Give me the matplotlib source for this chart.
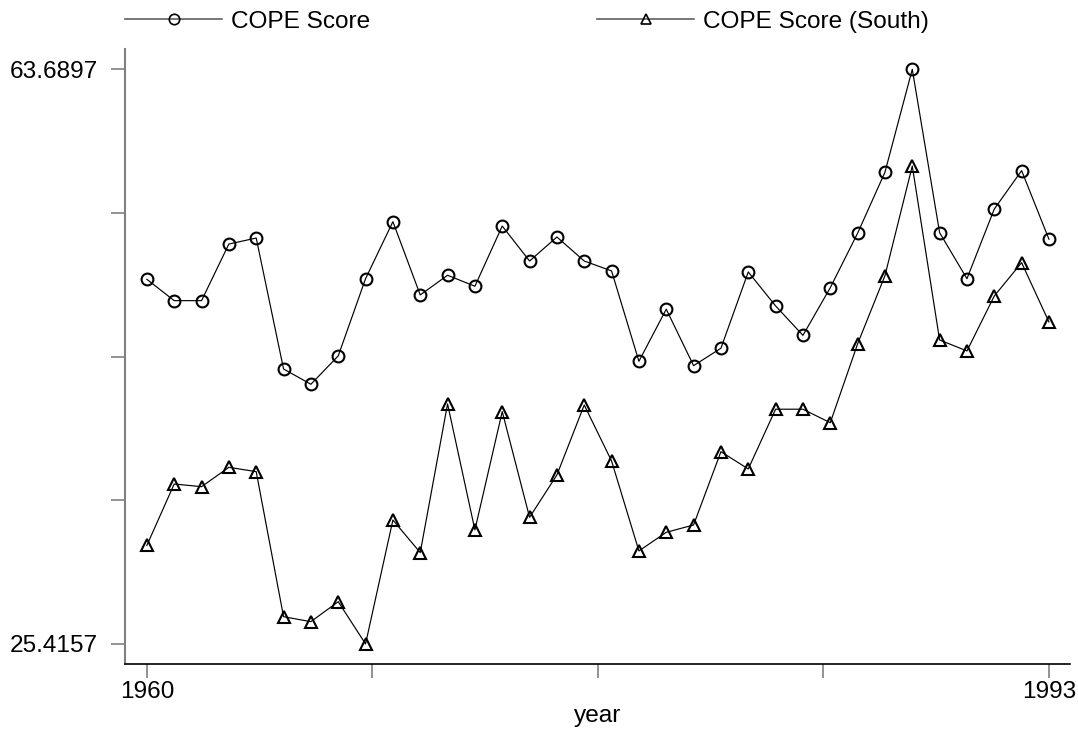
import matplotlib
matplotlib.use("Agg")
import matplotlib.pyplot as plt
import numpy as np
from matplotlib.lines import Line2D

years = list(range(1960, 1994))
cope = [49.70, 48.28, 48.28, 52.05, 52.45, 43.73, 42.71, 44.60, 49.74, 53.54,
        48.66, 49.97, 49.24, 53.25, 50.92, 52.52, 50.92, 50.26, 44.24, 47.71,
        43.95, 45.11, 50.19, 47.93, 45.97, 49.14, 52.77, 56.83, 63.6897, 52.81,
        49.74, 54.38, 56.94, 52.37]
cope_south = [31.98, 36.07, 35.89, 37.18, 36.89, 27.23, 26.90, 28.23, 25.4157, 33.67,
              31.50, 41.40, 33.01, 40.89, 33.85, 36.67, 41.33, 37.60, 31.61, 32.85,
              33.34, 38.22, 37.07, 41.05, 41.05, 40.15, 45.40, 49.94, 57.25, 45.66,
              44.93, 48.59, 50.81, 46.86]
series_labels = ["COPE Score", "COPE Score (South)"]
y_min_label, y_max_label = "25.4157", "63.6897"
x_axis_label = "year"

plt.rcParams['font.family'] = ['Liberation Sans', 'DejaVu Sans']
FS = 17.6

W, H = 1078, 735
fig = plt.figure(figsize=(W / 100, H / 100), dpi=100)
L, R, T, B = 125, 1070, 49, 664
ax = fig.add_axes([L / W, 1 - B / H, (R - L) / W, (B - T) / H])

ax.plot(years, cope, color='black', lw=0.85, marker='o', ms=8.5,
        mfc='none', mec='black', mew=1.5, label=series_labels[0])
ax.plot(years, cope_south, color='black', lw=0.85, marker='^', ms=8.5,
        mfc='none', mec='black', mew=1.5, label=series_labels[1])

ymin, ymax = float(y_min_label), float(y_max_label)
ax.set_ylim(24.08, 65.04)
ax.set_xlim(1959.2, 1993.77)

yt = np.linspace(ymin, ymax, 5)
ax.set_yticks(yt)
ax.set_yticklabels([y_min_label, "", "", "", y_max_label])
xt = np.linspace(1960, 1993, 5)
ax.set_xticks(xt)
ax.set_xticklabels(["1960", "", "", "", "1993"])

for s in ['top', 'right']:
    ax.spines[s].set_visible(False)
ax.spines['left'].set_color('#808080')
ax.spines['left'].set_linewidth(1.5)
ax.spines['bottom'].set_color('black')
ax.spines['bottom'].set_linewidth(1.2)
ax.tick_params(axis='both', direction='out', length=10, width=1.2, color='#808080',
               labelsize=FS, labelcolor='black')
ax.tick_params(axis='y', pad=9.5)
ax.tick_params(axis='x', pad=2.5)
ax.set_xlabel(x_axis_label, fontsize=FS, labelpad=1)

h1 = Line2D([], [], color='#606060', lw=1.2, marker='o', ms=7.5, mfc='none', mec='black', mew=1.2)
h2 = Line2D([], [], color='#606060', lw=1.2, marker='^', ms=7.5, mfc='none', mec='black', mew=1.2)
for h, lab, x0 in [(h1, series_labels[0], 125), (h2, series_labels[1], 597)]:
    fig.legend([h], [lab], loc='center left', bbox_to_anchor=(x0 / W, 1 - 22 / H),
               frameon=False, fontsize=FS, handlelength=3.97, handletextpad=0.36,
               borderpad=0, borderaxespad=0, numpoints=1)

fig.savefig("out.png", dpi=100, facecolor='white')
